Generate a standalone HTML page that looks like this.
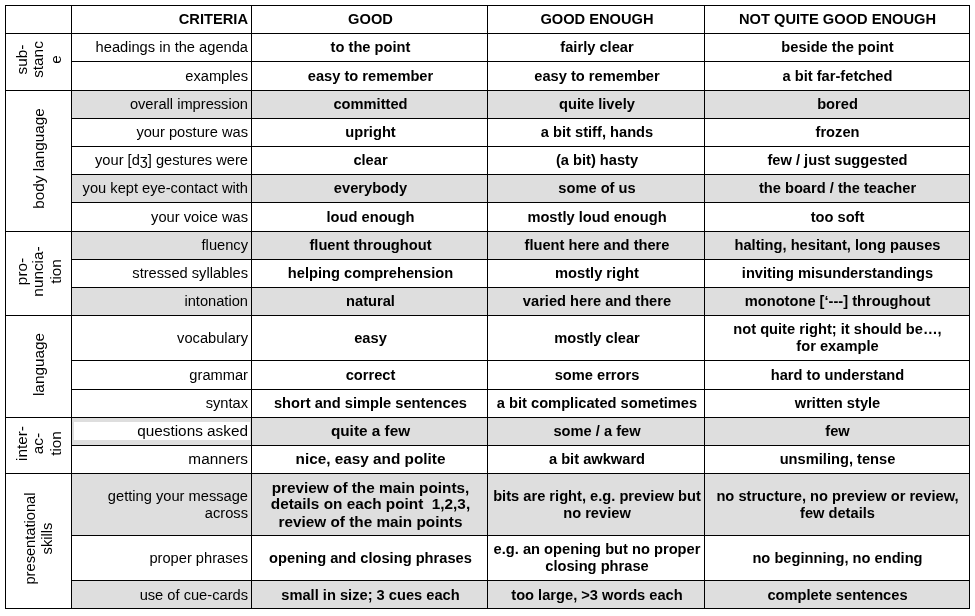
<!DOCTYPE html>
<html lang="en"><head><meta charset="utf-8"><title>Presentation feedback criteria</title>
<style>
html,body{margin:0;padding:0;background:#fff;}
body{filter:grayscale(1);}
body{width:975px;height:616px;position:relative;overflow:hidden;font-family:"Liberation Sans",sans-serif;font-size:14.67px;color:#000;line-height:17px;}
.c{position:absolute;display:flex;align-items:center;box-sizing:border-box;}
.c.k{justify-content:flex-end;text-align:right;padding-right:3px;}
.c.v{justify-content:center;text-align:center;font-weight:bold;padding-left:2px;}
.g{background:#dedede;}
.h{position:absolute;height:1px;background:#000;}
.w{position:absolute;width:1px;background:#000;}
.r{position:absolute;display:flex;align-items:center;justify-content:center;text-align:center;transform:rotate(-90deg);transform-origin:center center;}
.hl{background:#fff;display:block;}
</style></head><body>

<div class="c k" style="left:72px;top:6px;width:179px;height:27px;"><div><b>CRITERIA</b></div></div>
<div class="c v" style="left:252px;top:6px;width:235px;height:27px;"><div>GOOD</div></div>
<div class="c v" style="left:488px;top:6px;width:216px;height:27px;"><div>GOOD ENOUGH</div></div>
<div class="c v" style="left:705px;top:6px;width:264px;height:27px;padding-left:1px;"><div>NOT QUITE GOOD ENOUGH</div></div>
<div class="c k" style="left:72px;top:34px;width:179px;height:27px;"><div>headings in the agenda</div></div>
<div class="c v" style="left:252px;top:34px;width:235px;height:27px;"><div>to the point</div></div>
<div class="c v" style="left:488px;top:34px;width:216px;height:27px;"><div>fairly clear</div></div>
<div class="c v" style="left:705px;top:34px;width:264px;height:27px;padding-left:1px;"><div>beside the point</div></div>
<div class="c k" style="left:72px;top:62px;width:179px;height:28px;"><div>examples</div></div>
<div class="c v" style="left:252px;top:62px;width:235px;height:28px;"><div>easy to remember</div></div>
<div class="c v" style="left:488px;top:62px;width:216px;height:28px;"><div>easy to remember</div></div>
<div class="c v" style="left:705px;top:62px;width:264px;height:28px;padding-left:1px;"><div>a bit far-fetched</div></div>
<div class="c k g" style="left:72px;top:91px;width:179px;height:27px;"><div>overall impression</div></div>
<div class="c v g" style="left:252px;top:91px;width:235px;height:27px;"><div>committed</div></div>
<div class="c v g" style="left:488px;top:91px;width:216px;height:27px;"><div>quite lively</div></div>
<div class="c v g" style="left:705px;top:91px;width:264px;height:27px;padding-left:1px;"><div>bored</div></div>
<div class="c k" style="left:72px;top:119px;width:179px;height:27px;"><div>your posture was</div></div>
<div class="c v" style="left:252px;top:119px;width:235px;height:27px;"><div>upright</div></div>
<div class="c v" style="left:488px;top:119px;width:216px;height:27px;"><div>a bit stiff, hands</div></div>
<div class="c v" style="left:705px;top:119px;width:264px;height:27px;padding-left:1px;"><div>frozen</div></div>
<div class="c k" style="left:72px;top:147px;width:179px;height:27px;"><div>your [d&#658;] gestures were</div></div>
<div class="c v" style="left:252px;top:147px;width:235px;height:27px;"><div>clear</div></div>
<div class="c v" style="left:488px;top:147px;width:216px;height:27px;"><div>(a bit) hasty</div></div>
<div class="c v" style="left:705px;top:147px;width:264px;height:27px;padding-left:1px;"><div>few / just suggested</div></div>
<div class="c k g" style="left:72px;top:175px;width:179px;height:27px;"><div>you kept eye-contact with</div></div>
<div class="c v g" style="left:252px;top:175px;width:235px;height:27px;"><div>everybody</div></div>
<div class="c v g" style="left:488px;top:175px;width:216px;height:27px;"><div>some of us</div></div>
<div class="c v g" style="left:705px;top:175px;width:264px;height:27px;padding-left:1px;"><div>the board / the teacher</div></div>
<div class="c k" style="left:72px;top:203px;width:179px;height:28px;"><div>your voice was</div></div>
<div class="c v" style="left:252px;top:203px;width:235px;height:28px;"><div>loud enough</div></div>
<div class="c v" style="left:488px;top:203px;width:216px;height:28px;"><div>mostly loud enough</div></div>
<div class="c v" style="left:705px;top:203px;width:264px;height:28px;padding-left:1px;"><div>too soft</div></div>
<div class="c k g" style="left:72px;top:232px;width:179px;height:27px;"><div>fluency</div></div>
<div class="c v g" style="left:252px;top:232px;width:235px;height:27px;"><div>fluent throughout</div></div>
<div class="c v g" style="left:488px;top:232px;width:216px;height:27px;"><div>fluent here and there</div></div>
<div class="c v g" style="left:705px;top:232px;width:264px;height:27px;padding-left:1px;"><div>halting, hesitant, long pauses</div></div>
<div class="c k" style="left:72px;top:260px;width:179px;height:27px;"><div>stressed syllables</div></div>
<div class="c v" style="left:252px;top:260px;width:235px;height:27px;"><div>helping comprehension</div></div>
<div class="c v" style="left:488px;top:260px;width:216px;height:27px;"><div>mostly right</div></div>
<div class="c v" style="left:705px;top:260px;width:264px;height:27px;padding-left:1px;"><div>inviting misunderstandings</div></div>
<div class="c k g" style="left:72px;top:288px;width:179px;height:27px;"><div>intonation</div></div>
<div class="c v g" style="left:252px;top:288px;width:235px;height:27px;"><div>natural</div></div>
<div class="c v g" style="left:488px;top:288px;width:216px;height:27px;"><div>varied here and there</div></div>
<div class="c v g" style="left:705px;top:288px;width:264px;height:27px;padding-left:1px;"><div>monotone [&lsquo;---] throughout</div></div>
<div class="c k" style="left:72px;top:316px;width:179px;height:44px;"><div>vocabulary</div></div>
<div class="c v" style="left:252px;top:316px;width:235px;height:44px;"><div>easy</div></div>
<div class="c v" style="left:488px;top:316px;width:216px;height:44px;"><div>mostly clear</div></div>
<div class="c v" style="left:705px;top:316px;width:264px;height:44px;padding-left:1px;"><div>not quite right; it should be&hellip;,<br>for example</div></div>
<div class="c k" style="left:72px;top:361px;width:179px;height:28px;"><div>grammar</div></div>
<div class="c v" style="left:252px;top:361px;width:235px;height:28px;"><div>correct</div></div>
<div class="c v" style="left:488px;top:361px;width:216px;height:28px;"><div>some errors</div></div>
<div class="c v" style="left:705px;top:361px;width:264px;height:28px;padding-left:1px;"><div>hard to understand</div></div>
<div class="c k" style="left:72px;top:390px;width:179px;height:27px;"><div>syntax</div></div>
<div class="c v" style="left:252px;top:390px;width:235px;height:27px;"><div>short and simple sentences</div></div>
<div class="c v" style="left:488px;top:390px;width:216px;height:27px;"><div>a bit complicated sometimes</div></div>
<div class="c v" style="left:705px;top:390px;width:264px;height:27px;padding-left:1px;"><div>written style</div></div>
<div class="c g" style="left:72px;top:418px;width:179px;height:27px;"></div>
<div class="c k" style="left:74px;top:422px;width:175.5px;height:17.5px;background:#fff;font-size:15.33px;padding-right:1.5px;padding-bottom:1px;">questions asked</div>
<div class="c v g" style="left:252px;top:418px;width:235px;height:27px;font-size:15.33px;padding-bottom:2px;"><div>quite a few</div></div>
<div class="c v g" style="left:488px;top:418px;width:216px;height:27px;"><div>some / a few</div></div>
<div class="c v g" style="left:705px;top:418px;width:264px;height:27px;padding-left:1px;"><div>few</div></div>
<div class="c k" style="left:72px;top:446px;width:179px;height:27px;font-size:15.33px;padding-bottom:2px;"><div>manners</div></div>
<div class="c v" style="left:252px;top:446px;width:235px;height:27px;font-size:15.33px;padding-bottom:2px;"><div>nice, easy and polite</div></div>
<div class="c v" style="left:488px;top:446px;width:216px;height:27px;"><div>a bit awkward</div></div>
<div class="c v" style="left:705px;top:446px;width:264px;height:27px;padding-left:1px;"><div>unsmiling, tense</div></div>
<div class="c k g" style="left:72px;top:474px;width:179px;height:61px;"><div>getting your message<br>across</div></div>
<div class="c v g" style="left:252px;top:474px;width:235px;height:61px;font-size:15.33px;line-height:17.6px;"><div><span style="position:relative;top:1px">preview of the main points,</span><br><span style="position:relative;top:-0.7px">details on each point&nbsp; 1,2,3,</span><br>review of the main points</div></div>
<div class="c v g" style="left:488px;top:474px;width:216px;height:61px;"><div>bits are right, e.g. preview but<br>no review</div></div>
<div class="c v g" style="left:705px;top:474px;width:264px;height:61px;padding-left:1px;"><div>no structure, no preview or review,<br>few details</div></div>
<div class="c k" style="left:72px;top:536px;width:179px;height:44px;"><div>proper phrases</div></div>
<div class="c v" style="left:252px;top:536px;width:235px;height:44px;"><div>opening and closing phrases</div></div>
<div class="c v" style="left:488px;top:536px;width:216px;height:44px;"><div>e.g. an opening but no proper<br>closing phrase</div></div>
<div class="c v" style="left:705px;top:536px;width:264px;height:44px;padding-left:1px;"><div>no beginning, no ending</div></div>
<div class="c k g" style="left:72px;top:581px;width:179px;height:27px;padding-top:2px;"><div>use of cue-cards</div></div>
<div class="c v g" style="left:252px;top:581px;width:235px;height:27px;padding-top:2px;"><div>small in size; 3 cues each</div></div>
<div class="c v g" style="left:488px;top:581px;width:216px;height:27px;padding-top:2px;"><div>too large, &gt;3 words each</div></div>
<div class="c v g" style="left:705px;top:581px;width:264px;height:27px;padding-top:2px;padding-left:1px;"><div>complete sentences</div></div>
<div class="r" style="left:9.700000000000003px;top:26.799999999999997px;width:56px;height:65px;font-size:15.33px;"><div><span style="display:block;position:relative;top:0px;">sub-</span><span style="display:block;position:relative;top:-1px;">stanc</span><span style="display:block;position:relative;top:0px;">e</span></div></div>
<div class="r" style="left:-32.0px;top:125.69999999999999px;width:140px;height:65px;font-size:15.33px;"><div><span style="display:block;position:relative;top:0px;">body language</span></div></div>
<div class="r" style="left:-3.1000000000000014px;top:239.0px;width:83px;height:65px;font-size:15.33px;"><div><span style="display:block;position:relative;top:0px;">pro-</span><span style="display:block;position:relative;top:-1px;">nuncia-</span><span style="display:block;position:relative;top:0px;">tion</span></div></div>
<div class="r" style="left:-12.5px;top:332.1px;width:101px;height:65px;font-size:15.33px;"><div><span style="display:block;position:relative;top:0px;">language</span></div></div>
<div class="r" style="left:10.899999999999999px;top:411.3px;width:55px;height:65px;font-size:15.33px;"><div><span style="display:block;position:relative;top:0px;">inter-</span><span style="display:block;position:relative;top:-1px;">ac-</span><span style="display:block;position:relative;top:0px;">tion</span></div></div>
<div class="r" style="left:-29.0px;top:505.70000000000005px;width:134px;height:65px;font-size:14.67px;"><div><span style="display:block;position:relative;top:0px;">presentational</span><span style="display:block;position:relative;top:0px;">skills</span></div></div>
<div class="h" style="left:5px;top:5px;width:965px;"></div>
<div class="h" style="left:5px;top:33px;width:965px;"></div>
<div class="h" style="left:71px;top:61px;width:899px;"></div>
<div class="h" style="left:5px;top:90px;width:965px;"></div>
<div class="h" style="left:71px;top:118px;width:899px;"></div>
<div class="h" style="left:71px;top:146px;width:899px;"></div>
<div class="h" style="left:71px;top:174px;width:899px;"></div>
<div class="h" style="left:71px;top:202px;width:899px;"></div>
<div class="h" style="left:5px;top:231px;width:965px;"></div>
<div class="h" style="left:71px;top:259px;width:899px;"></div>
<div class="h" style="left:71px;top:287px;width:899px;"></div>
<div class="h" style="left:5px;top:315px;width:965px;"></div>
<div class="h" style="left:71px;top:360px;width:899px;"></div>
<div class="h" style="left:71px;top:389px;width:899px;"></div>
<div class="h" style="left:5px;top:417px;width:965px;"></div>
<div class="h" style="left:71px;top:445px;width:899px;"></div>
<div class="h" style="left:5px;top:473px;width:965px;"></div>
<div class="h" style="left:71px;top:535px;width:899px;"></div>
<div class="h" style="left:71px;top:580px;width:899px;"></div>
<div class="h" style="left:5px;top:608px;width:965px;"></div>
<div class="w" style="left:5px;top:5px;height:604px;"></div>
<div class="w" style="left:71px;top:5px;height:604px;"></div>
<div class="w" style="left:251px;top:5px;height:604px;"></div>
<div class="w" style="left:487px;top:5px;height:604px;"></div>
<div class="w" style="left:704px;top:5px;height:604px;"></div>
<div class="w" style="left:969px;top:5px;height:604px;"></div>
</body></html>
